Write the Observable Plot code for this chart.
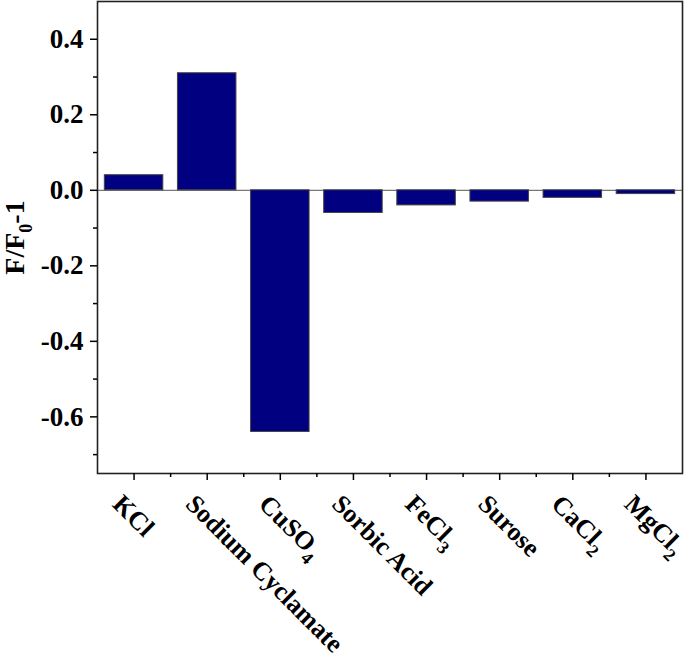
<!DOCTYPE html>
<html>
<head>
<meta charset="utf-8">
<script src="https://cdn.jsdelivr.net/npm/d3@7"></script>
<script src="https://cdn.jsdelivr.net/npm/@observablehq/plot@0.6"></script>
<style>
  html, body { margin: 0; padding: 0; background: #fff; }
</style>
</head>
<body>
<div id="chart"></div>
<script>
const categories = ["KCl", "Sodium Cyclamate", "CuSO4", "Sorbic Acid", "FeCl3", "Surose", "CaCl2", "MgCl2"];
const values = [0.04, 0.31, -0.64, -0.06, -0.04, -0.03, -0.02, -0.01];
const yMajorTicks = [-0.6, -0.4, -0.2, 0.0, 0.2, 0.4];
const yMinorTicks = [-0.7, -0.5, -0.3, -0.1, 0.1, 0.3];
const yLabel = "F/F0-1";

const data = categories.map((name, k) => ({name, pos: k + 1, value: values[k]}));
const xMajorTicks = data.map(d => d.pos);
const xMinorTicks = data.slice(1).map(d => d.pos - 0.5);
const barHalf = 0.4;

const chart = Plot.plot({
  width: 685,
  height: 663,
  marginLeft: 97,
  marginRight: 3,
  marginTop: 1,
  marginBottom: 190,
  style: {
    fontFamily: "'Liberation Serif', 'Times New Roman', serif",
    fontSize: "26px",
    fontWeight: "bold",
    color: "#000",
    background: "#fff",
    overflow: "visible"
  },
  x: {domain: [0.5, categories.length + 0.5]},
  y: {domain: [-0.75, 0.5]},
  marks: [
    Plot.ruleY([0], {stroke: "#555", strokeWidth: 1}),
    Plot.rectY(data, {
      x1: d => d.pos - barHalf,
      x2: d => d.pos + barHalf,
      y1: 0,
      y2: "value",
      fill: "#000080",
      stroke: "#444",
      strokeWidth: 1
    }),
    Plot.frame({stroke: "#222", strokeWidth: 1.6}),
    Plot.axisY(yMajorTicks, {tickSize: 7, tickPadding: 7, tickFormat: d => d.toFixed(1), label: null, strokeWidth: 1.5, fontSize: 27}),
    Plot.axisY(yMinorTicks, {tickSize: 4, text: null, label: null, strokeWidth: 1.5}),
    Plot.axisX(xMajorTicks, {tickSize: 7, text: null, label: null, strokeWidth: 1.5}),
    Plot.axisX(xMinorTicks, {tickSize: 4, text: null, label: null, strokeWidth: 1.5}),
    Plot.axisX(xMajorTicks, {
      tickSize: 0,
      tickPadding: 26,
      tickRotate: 45,
      textAnchor: "start",
      lineAnchor: "middle",
      dx: -17,
      fontSize: 26,
      tickFormat: p => categories[p - 1],
      label: null
    }),
    Plot.text([yLabel], {text: d => d, frameAnchor: "left", dx: -82, rotate: -90, textAnchor: "middle", lineAnchor: "middle", fontSize: 28})
  ]
});

document.getElementById("chart").appendChild(chart);

// Render embedded digits as subscripts (chemical formulas, F0)
const subs = new Set([...categories.filter(c => /\d/.test(c)), yLabel]);
d3.select(chart).selectAll("text").each(function() {
  const t = this.textContent;
  if (!subs.has(t)) return;
  const parts = t.match(/\d+|\D+/g);
  const sel = d3.select(this);
  sel.text(null);
  let shifted = false;
  parts.forEach((p, k) => {
    const isSub = /^\d+$/.test(p) && k > 0 && !(t === yLabel && k === parts.length - 1);
    const ts = sel.append("tspan").text(p);
    if (isSub) {
      ts.attr("font-size", "18px").attr("dy", 8);
      shifted = true;
    } else if (shifted) {
      ts.attr("dy", -8);
      shifted = false;
    }
  });
});
</script>
</body>
</html>
